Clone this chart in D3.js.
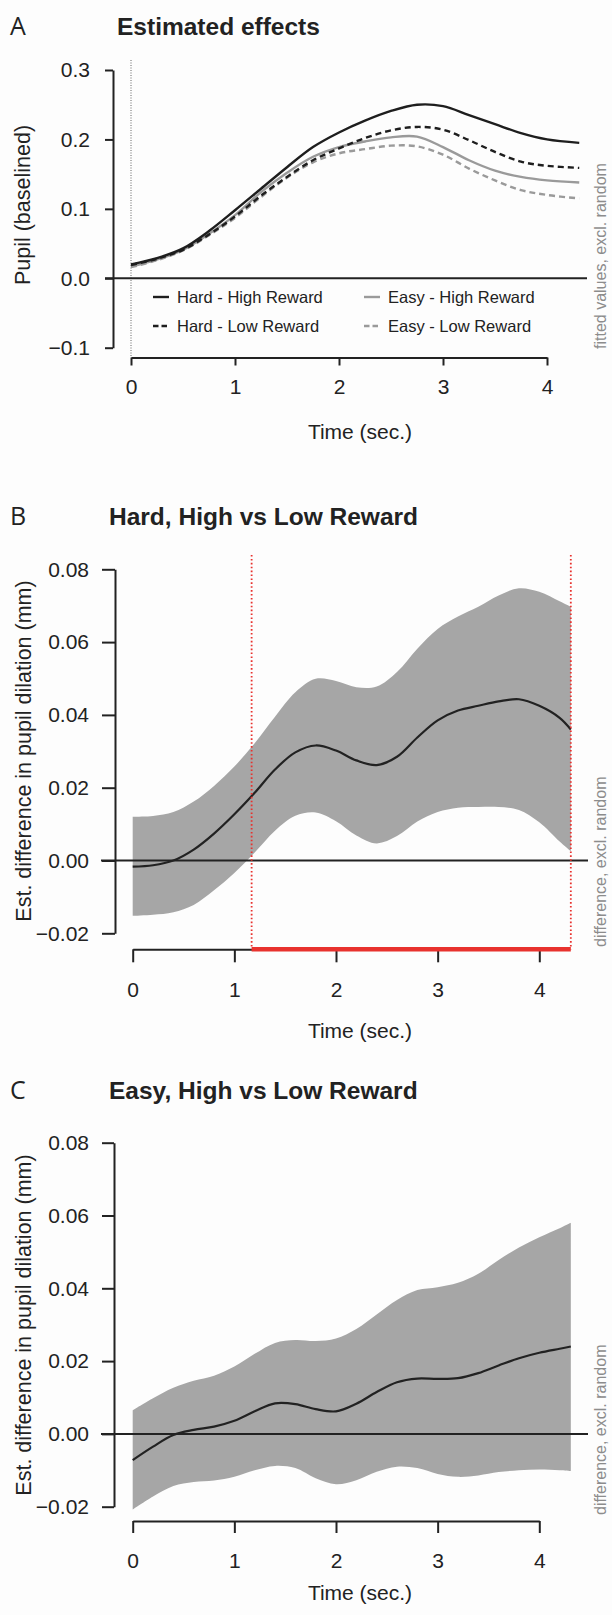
<!DOCTYPE html>
<html>
<head>
<meta charset="utf-8">
<script src="https://d3js.org/d3.v7.min.js"></script>
<style>
    body { margin: 0; background: #fdfdfd; }
    svg  { display: block; }
</style>
</head>
<body>
<div id="chart"></div>
<script>

////////////
/// Data ///
////////////

// Panel A: fitted pupil size per condition
const timeA    = [0, 0.25, 0.5, 0.75, 1, 1.25, 1.5, 1.75, 2, 2.25, 2.5, 2.75, 3, 3.25, 3.5, 3.75, 4, 4.31];
const hardHigh = [0.020, 0.029, 0.043, 0.068, 0.098, 0.129, 0.160, 0.189, 0.210, 0.227, 0.241, 0.250, 0.248, 0.235, 0.222, 0.209, 0.200, 0.195];
const hardLow  = [0.019, 0.028, 0.041, 0.063, 0.089, 0.119, 0.146, 0.170, 0.187, 0.202, 0.213, 0.218, 0.214, 0.199, 0.182, 0.168, 0.162, 0.159];
const easyHigh = [0.017, 0.027, 0.041, 0.064, 0.091, 0.124, 0.152, 0.175, 0.189, 0.197, 0.203, 0.204, 0.189, 0.170, 0.155, 0.146, 0.141, 0.138];
const easyLow  = [0.016, 0.026, 0.040, 0.062, 0.087, 0.117, 0.145, 0.167, 0.180, 0.186, 0.191, 0.190, 0.178, 0.158, 0.141, 0.127, 0.120, 0.115];
const seriesA  = ["Hard - High Reward", "Hard - Low Reward", "Easy - High Reward", "Easy - Low Reward"];

// Panels B and C: estimated difference with confidence band
const timeDiff  = [0, 0.2, 0.4, 0.6, 0.8, 1.0, 1.2, 1.4, 1.6, 1.8, 2.0, 2.2, 2.4, 2.6, 2.8, 3.0, 3.2, 3.4, 3.6, 3.8, 4.0, 4.2, 4.31];
const hardMean  = [-0.0017, -0.0013, 0.0000, 0.0030, 0.0074, 0.0127, 0.0186, 0.0250, 0.0297, 0.0316, 0.0302, 0.0275, 0.0262, 0.0285, 0.0338, 0.0385, 0.0412, 0.0425, 0.0437, 0.0443, 0.0425, 0.0392, 0.0360];
const hardUpper = [0.0120, 0.0122, 0.0133, 0.0162, 0.0205, 0.0258, 0.0322, 0.0395, 0.0462, 0.0499, 0.0493, 0.0476, 0.0478, 0.0518, 0.0582, 0.0636, 0.0670, 0.0697, 0.0728, 0.0748, 0.0738, 0.0712, 0.0697];
const hardLower = [-0.0152, -0.0149, -0.0142, -0.0122, -0.0082, -0.0034, 0.0022, 0.0082, 0.0123, 0.0132, 0.0108, 0.0069, 0.0047, 0.0067, 0.0107, 0.0133, 0.0145, 0.0147, 0.0147, 0.0139, 0.0105, 0.0052, 0.0025];
const easyMean  = [-0.0072, -0.0035, -0.0003, 0.0011, 0.0020, 0.0036, 0.0062, 0.0084, 0.0082, 0.0068, 0.0062, 0.0083, 0.0115, 0.0142, 0.0152, 0.0151, 0.0153, 0.0167, 0.0188, 0.0208, 0.0223, 0.0234, 0.0240];
const easyUpper = [0.0065, 0.0098, 0.0127, 0.0146, 0.0160, 0.0185, 0.0220, 0.0250, 0.0258, 0.0255, 0.0262, 0.0288, 0.0328, 0.0368, 0.0395, 0.0403, 0.0415, 0.0440, 0.0478, 0.0512, 0.0540, 0.0565, 0.0580];
const easyLower = [-0.0208, -0.0172, -0.0143, -0.0132, -0.0128, -0.0118, -0.0100, -0.0088, -0.0094, -0.0122, -0.0138, -0.0127, -0.0104, -0.0090, -0.0094, -0.0110, -0.0118, -0.0114, -0.0105, -0.0100, -0.0098, -0.0100, -0.0102];
const sigRegion = [1.17, 4.31];

// Ticks
const ticksA    = [-0.1, 0, 0.1, 0.2, 0.3];
const ticksDiff = [-0.02, 0, 0.02, 0.04, 0.06, 0.08];
const ticksTime = [0, 1, 2, 3, 4];

///////////
/// Box ///
///////////

const width  = 612;
const height = 1615;
const ink    = "#222";
const font   = "'Liberation Sans', Arial, Helvetica, sans-serif";

let svg = d3.select("#chart")
    .append("svg")
    .attr("width", width)
    .attr("height", height)
    .style("font-family", font);

svg.append("rect")
    .attr("width", width)
    .attr("height", height)
    .attr("fill", "#fdfdfd");

function styleAxis(ax, fontSize) {
    ax.attr("font-family", font);
    ax.select(".domain").attr("stroke", ink).attr("stroke-width", 2);
    ax.selectAll(".tick line").attr("stroke", ink).attr("stroke-width", 2);
    ax.selectAll(".tick text").attr("fill", ink).attr("font-size", fontSize);
}

function drawFrame(p, fmt, yTicks) {
    // panel letter and title
    svg.append("text")
        .attr("x", 10).attr("y", p.titleY)
        .attr("font-family", "'Open Sans', 'Liberation Sans', sans-serif")
        .attr("font-size", 25).attr("fill", ink)
        .text(p.letter);
    svg.append("text")
        .attr("x", p.titleX).attr("y", p.titleY)
        .attr("font-size", 24.5).attr("font-weight", "bold").attr("fill", ink)
        .text(p.title);

    // axes
    let yAx = svg.append("g")
        .attr("transform", "translate(" + p.yAxisX + ",0)")
        .call(d3.axisLeft(p.y).tickValues(yTicks).tickFormat(fmt)
            .tickSize(p.tick).tickSizeOuter(0).tickPadding(p.yPad));
    styleAxis(yAx, 21);

    let xAx = svg.append("g")
        .attr("transform", "translate(0," + p.xAxisY + ")")
        .call(d3.axisBottom(p.x).tickValues(ticksTime).tickFormat(d3.format("d"))
            .tickSize(p.tick).tickSizeOuter(0).tickPadding(p.xPad));
    styleAxis(xAx, 21);

    // axis labels
    svg.append("text")
        .attr("transform", "translate(" + p.yLabX + "," + p.yLabY + ") rotate(-90)")
        .attr("text-anchor", "middle")
        .attr("font-size", 21.5).attr("fill", ink)
        .text(p.yLabel);
    svg.append("text")
        .attr("x", 360).attr("y", p.xLabY)
        .attr("text-anchor", "middle")
        .attr("font-size", 21).attr("fill", ink)
        .text("Time (sec.)");
    svg.append("text")
        .attr("transform", "translate(606," + p.sideY + ") rotate(-90)")
        .attr("text-anchor", "start")
        .attr("font-size", 16).attr("fill", "#8c8c8c")
        .text(p.side);
}

////////////////
/// Panel A  ///
////////////////

let pA = {
    letter: "A", title: "Estimated effects", titleX: 117, titleY: 35,
    x: d3.scaleLinear().domain([0, 4]).range([131, 547]),
    y: d3.scaleLinear().domain([-0.1, 0.3]).range([347.7, 70]),
    yAxisX: 113, xAxisY: 357.5, tick: 8, yPad: 15, xPad: 14,
    yLabel: "Pupil (baselined)", yLabX: 30, yLabY: 205, xLabY: 439,
    side: "fitted values, excl. random", sideY: 349
};
drawFrame(pA, d3.format(".1f"), ticksA);

svg.append("line")
    .attr("x1", pA.x(0)).attr("x2", pA.x(0))
    .attr("y1", 60).attr("y2", pA.xAxisY)
    .attr("stroke", "#666").attr("stroke-width", 1)
    .attr("stroke-dasharray", "1,1.5");

svg.append("line")
    .attr("x1", 105).attr("x2", 587)
    .attr("y1", pA.y(0)).attr("y2", pA.y(0))
    .attr("stroke", ink).attr("stroke-width", 2);

let styleA = [
    {values: hardHigh, color: "#1e1e1e", dash: null},
    {values: hardLow,  color: "#1e1e1e", dash: "6,4"},
    {values: easyHigh, color: "#9a9a9a", dash: null},
    {values: easyLow,  color: "#9a9a9a", dash: "6,4"}
];

let lineA = d3.line()
    .x((d, i) => pA.x(timeA[i]))
    .y(d => pA.y(d))
    .curve(d3.curveCatmullRom);

// draw gray ones below the black ones
[3, 2, 1, 0].forEach(k => {
    svg.append("path")
        .datum(styleA[k].values)
        .attr("fill", "none")
        .attr("stroke", styleA[k].color)
        .attr("stroke-width", 2.4)
        .attr("stroke-dasharray", styleA[k].dash)
        .attr("d", lineA);
});

// legend
let legendPos = [[153, 297], [153, 326], [364, 297], [364, 326]];
seriesA.forEach((name, k) => {
    let lx = legendPos[k][0], ly = legendPos[k][1];
    svg.append("line")
        .attr("x1", lx).attr("x2", lx + 16)
        .attr("y1", ly).attr("y2", ly)
        .attr("stroke", styleA[k].color)
        .attr("stroke-width", 2.4)
        .attr("stroke-dasharray", styleA[k].dash ? "5.5,3" : null);
    svg.append("text")
        .attr("x", lx + 24).attr("y", ly + 6)
        .attr("font-size", 16.5).attr("fill", ink)
        .text(name);
});

//////////////////////
/// Panels B and C ///
//////////////////////

function drawDiff(p, mean, upper, lower) {
    drawFrame(p, d3.format(".2f"), ticksDiff);

    let band = d3.area()
        .x((d, i) => p.x(timeDiff[i]))
        .y0((d, i) => p.y(lower[i]))
        .y1(d => p.y(d))
        .curve(d3.curveCatmullRom);

    svg.append("path")
        .datum(upper)
        .attr("fill", "#a6a6a6")
        .attr("d", band);

    svg.append("line")
        .attr("x1", 101).attr("x2", 588)
        .attr("y1", p.y(0)).attr("y2", p.y(0))
        .attr("stroke", ink).attr("stroke-width", 2);

    svg.append("path")
        .datum(mean)
        .attr("fill", "none")
        .attr("stroke", ink)
        .attr("stroke-width", 2.2)
        .attr("d", d3.line()
            .x((d, i) => p.x(timeDiff[i]))
            .y(d => p.y(d))
            .curve(d3.curveCatmullRom));
}

let pB = {
    letter: "B", title: "Hard, High vs Low Reward", titleX: 109, titleY: 525,
    x: d3.scaleLinear().domain([0, 4]).range([132.7, 539.3]),
    y: d3.scaleLinear().domain([-0.02, 0.08]).range([933.3, 569.3]),
    yAxisX: 115, xAxisY: 949.3, tick: 13, yPad: 13, xPad: 20,
    yLabel: "Est. difference in pupil dilation (mm)", yLabX: 31, yLabY: 751, xLabY: 1038,
    side: "difference, excl. random", sideY: 947
};
drawDiff(pB, hardMean, hardUpper, hardLower);

// significant window
let red = "#e8322e";
sigRegion.forEach(t => {
    svg.append("line")
        .attr("x1", pB.x(t)).attr("x2", pB.x(t))
        .attr("y1", 555).attr("y2", pB.xAxisY)
        .attr("stroke", red).attr("stroke-width", 1.8)
        .attr("stroke-dasharray", "1.6,2.3");
});
svg.append("line")
    .attr("x1", pB.x(sigRegion[0])).attr("x2", pB.x(sigRegion[1]))
    .attr("y1", pB.xAxisY).attr("y2", pB.xAxisY)
    .attr("stroke", red).attr("stroke-width", 4.5);

let pC = {
    letter: "C", title: "Easy, High vs Low Reward", titleX: 109, titleY: 1099,
    x: d3.scaleLinear().domain([0, 4]).range([132.7, 539.3]),
    y: d3.scaleLinear().domain([-0.02, 0.08]).range([1506.7, 1142.7]),
    yAxisX: 114, xAxisY: 1521, tick: 12, yPad: 13, xPad: 20,
    yLabel: "Est. difference in pupil dilation (mm)", yLabX: 31, yLabY: 1325, xLabY: 1600,
    side: "difference, excl. random", sideY: 1515
};
drawDiff(pC, easyMean, easyUpper, easyLower);

</script>
</body>
</html>
